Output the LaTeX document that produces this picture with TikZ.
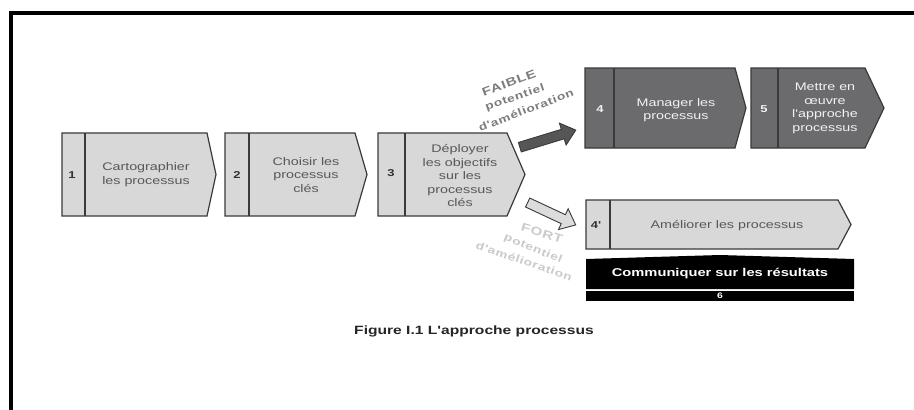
\documentclass[tikz,border=0pt]{standalone}
\usepackage{fontspec}
\setmainfont{Liberation Sans}
\newfontfamily\widefont[FakeStretch=1.3]{Liberation Sans}
\newfontfamily\spacedfont[FakeStretch=1.3, LetterSpace=6]{Liberation Sans}
\usetikzlibrary{shapes.arrows}

\definecolor{boxlight}{HTML}{D8D8D8}
\definecolor{boxdark}{HTML}{6B6B6E}
\definecolor{edgeink}{HTML}{3A3A3A}
\definecolor{inklight}{HTML}{585858}
\definecolor{inkdark}{HTML}{F2F2F2}
\definecolor{lowtone}{HTML}{7C7C7C}
\definecolor{hightone}{HTML}{CACACA}
\definecolor{arrowdark}{HTML}{565656}
\definecolor{arrowlight}{HTML}{DCDCDC}

% one process step: pentagon with a number column on its left
% #1 name, #2 style, #3 left x, #4 top y, #5 corner x, #6 tip x, #7 bottom y, #8 divider x
\newcommand\procpentagon[8]{%
  \coordinate (#1-nw) at (#3,#4);
  \coordinate (#1-ne) at (#5,#4);
  \coordinate (#1-tip) at (#6,{(#4+#7)/2});
  \coordinate (#1-se) at (#5,#7);
  \coordinate (#1-sw) at (#3,#7);
  \coordinate (#1-dt) at (#8,#4);
  \coordinate (#1-db) at (#8,#7);
  \draw[#2] (#1-nw) -- (#1-ne) -- (#1-tip) -- (#1-se) -- (#1-sw) -- cycle;
  \draw[divider] (#1-dt) -- (#1-db);
}

\tikzset{
  lightstep/.style={fill=boxlight, draw=edgeink, line width=1.2pt, line join=miter},
  darkstep/.style={fill=boxdark, draw=edgeink, line width=1.2pt, line join=miter},
  divider/.style={draw=edgeink, line width=2pt},
  lighttext/.style={font=\widefont\fontsize{11}{13.5}\selectfont, text=inklight, align=center, inner sep=0pt},
  darktext/.style={font=\widefont\fontsize{11}{13.5}\selectfont, text=inkdark, align=center, inner sep=0pt},
  numlight/.style={font=\widefont\bfseries\fontsize{10}{12}\selectfont, text=black!80, inner sep=0pt},
  numdark/.style={font=\widefont\bfseries\fontsize{10}{12}\selectfont, text=inkdark, inner sep=0pt},
  slanted/.style={font=\spacedfont\bfseries\fontsize{10.5}{12}\selectfont, inner sep=0pt},
  slantedbig/.style={font=\spacedfont\bfseries\fontsize{11.5}{13}\selectfont, inner sep=0pt},
  blockarrow/.style={single arrow, text height=0pt, text depth=0pt, inner xsep=0pt,
    inner ysep=4.5pt, single arrow head extend=6.5pt, single arrow tip angle=80,
    line width=0.9pt, draw=edgeink},
}

\begin{document}
\begin{tikzpicture}[x=1pt, y=-1pt]
\useasboundingbox (0,0) rectangle (914,410);
\fill[white] (0,0) rectangle (914,410);

% page frame (top and left rules)
\draw[line width=4.5pt, line join=miter] (10.8,412) -- (10.8,12.8) -- (916,12.8);

% steps 1 to 3
\procpentagon{s1}{lightstep}{62}{133}{207}{216}{216}{85}
\procpentagon{s2}{lightstep}{225}{133}{355}{367}{216}{249}
\procpentagon{s3}{lightstep}{378}{133}{507}{525}{216}{405}

\node[numlight] (n1) at (72,175) {1};
\node[numlight] (n2) at (237,175) {2};
\node[numlight] (n3) at (391,173) {3};

\node[lighttext] (t1) at (146,174.5) {Cartographier\\les processus};
\node[lighttext] (t2) at (306,175) {Choisir les\\processus\\clés};
\node[lighttext] (t3) at (460,175.5) {Déployer\\les objectifs\\sur les\\processus\\clés};

% steps 4 and 5
\procpentagon{s4}{darkstep}{585}{68}{735}{746}{148}{614}
\procpentagon{s5}{darkstep}{751}{68}{865}{884}{148}{778}

\node[numdark] (n4) at (600,109) {4};
\node[numdark] (n5) at (764,109) {5};

\node[darktext] (t4) at (676,110) {Manager les\\processus};
\node[darktext] (t5) at (825,108.5) {Mettre en\\œuvre\\l'approche\\processus};

% step 4'
\procpentagon{s4b}{lightstep}{586}{200}{838}{851}{249}{610}
\node[numlight] (n4b) at (596,225.5) {4'};
\node[lighttext] (t4b) at (727,225.5) {Améliorer les processus};

% step 6: communication band with a slightly peaked top
\fill[black] (586,289) -- (586,259) -- (720,255) -- (854,259) -- (854,289) -- cycle;
\fill[black] (586,290.5) rectangle (854,300.5);
\coordinate (band) at (720,274);
\node[font=\widefont\bfseries\fontsize{11.3}{12}\selectfont, text=white, inner sep=0pt] (t6) at (band) {Communiquer sur les résultats};
\node[font=\widefont\bfseries\fontsize{8}{9}\selectfont, text=white, inner sep=0pt] (n6) at (720,295.5) {6};

% branching arrows out of step 3
\node[blockarrow, fill=arrowdark, minimum height=58.5pt, rotate=17] (upArrow) at (545,139.5) {};
\node[blockarrow, fill=arrowlight, minimum height=53pt, rotate=-25] (downArrow) at (549,212.5) {};

% labels along the arrows
\node[slantedbig, text=lowtone, rotate=21] (faibleA) at (509,83) {FAIBLE};
\node[slanted, text=lowtone, rotate=19] (faibleB) at (515,98) {potentiel};
\node[slanted, text=lowtone, rotate=21] (faibleC) at (526,110) {d'amélioration};

\node[slantedbig, text=hightone, rotate=-17] (fortA) at (542,233) {FORT};
\node[slanted, text=hightone, rotate=-22] (fortB) at (533,249) {potentiel};
\node[slanted, text=hightone, rotate=-19] (fortC) at (524,261) {d'amélioration};

% caption
\node[font=\widefont\bfseries\fontsize{12}{14}\selectfont, text=black!85, inner sep=0pt] (caption) at (474,331)
  {Figure I.1 L'approche processus};
\end{tikzpicture}
\end{document}
